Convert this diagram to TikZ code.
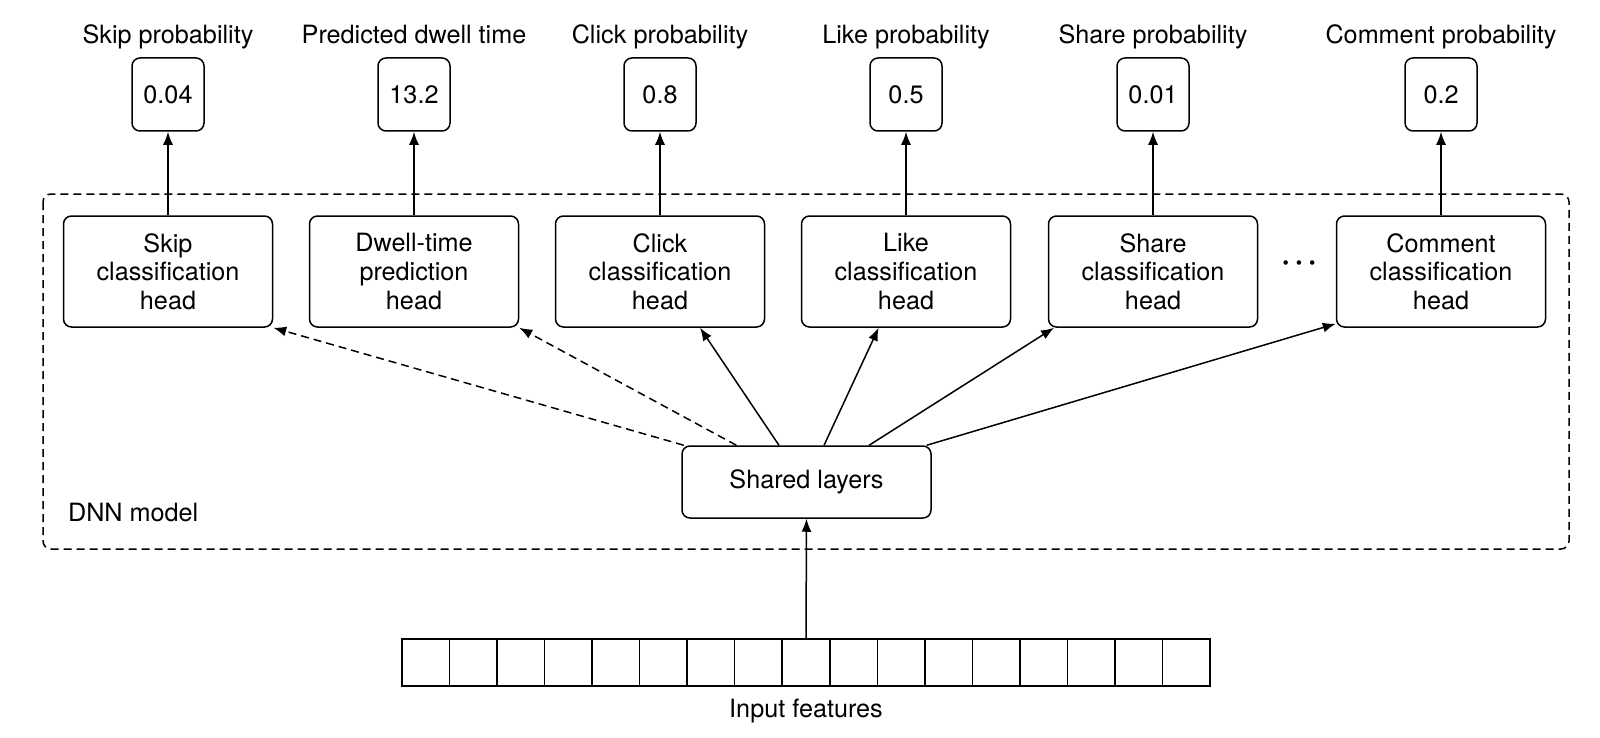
\documentclass[tikz,border=0pt]{standalone}
\usepackage{fontspec}
\setmainfont{TeX Gyre Heros}
\usetikzlibrary{arrows.meta,calc}
\begin{document}
\begin{tikzpicture}[x=0.5pt,y=-0.5pt,
  txt/.style={font=\fontsize{12.6}{14.3}\selectfont},
  box/.style={draw, rounded corners=4pt, line width=0.75pt, inner sep=0pt, txt},
  head/.style={box, minimum width=104.5pt, minimum height=55.5pt, align=center},
  valbox/.style={box, minimum width=36pt, minimum height=36.5pt},
  sharedbox/.style={box, minimum width=124.5pt, minimum height=36pt},
  cell/.style={draw, line width=0.75pt, minimum width=23.76pt, minimum height=23.5pt, inner sep=0pt},
  title/.style={txt, anchor=base},
  arr/.style={-{Latex[length=6.5pt,width=5pt]}, line width=0.75pt},
  darr/.style={arr, dash pattern=on 4pt off 2.5pt},
  frame/.style={draw, line width=0.75pt, dash pattern=on 4pt off 2.5pt, rounded corners=4pt}
]
\useasboundingbox (0,0) rectangle (1600,738);

% DNN frame
\draw[frame] (43,194) rectangle (1569,549);
\node[txt, anchor=base west] (dnn) at (61,521) {DNN model};

% heads
\node[head] (skip) at (168,271.5) {Skip\\classification\\head};
\node[head] (dwell) at (414,271.5) {Dwell-time\\prediction\\head};
\node[head] (click) at (660,271.5) {Click\\classification\\head};
\node[head] (like) at (906,271.5) {Like\\classification\\head};
\node[head] (share) at (1153,271.5) {Share\\classification\\head};
\node[head] (comment) at (1441,271.5) {Comment\\classification\\head};
\node[font=\fontsize{15}{15}\selectfont\bfseries, inner sep=0pt] (dots) at (1299,266) {\textperiodcentered\,\textperiodcentered\,\textperiodcentered};

% value boxes
\node[valbox] (vskip) at (168,94.5) {0.04};
\node[valbox] (vdwell) at (414,94.5) {13.2};
\node[valbox] (vclick) at (660,94.5) {0.8};
\node[valbox] (vlike) at (906,94.5) {0.5};
\node[valbox] (vshare) at (1153,94.5) {0.01};
\node[valbox] (vcomment) at (1441,94.5) {0.2};

% titles
\node[title] (tskip) at (168,44) {Skip probability};
\node[title] (tdwell) at (414,44) {Predicted dwell time};
\node[title] (tclick) at (660,44) {Click probability};
\node[title] (tlike) at (906,44) {Like probability};
\node[title] (tshare) at (1153,44) {Share probability};
\node[title] (tcomment) at (1441,44) {Comment probability};

% head -> value arrows
\foreach \n in {skip,dwell,click,like,share,comment}
  \draw[arr] (\n.north) -- (v\n.south);

% shared layers
\node[sharedbox] (shared) at (806.5,482) {Shared layers};

\draw[darr] ($(shared.north west)!0.01!(shared.north east)$) -- (skip.south east);
\draw[darr] ($(shared.north west)!0.22!(shared.north east)$) -- (dwell.south east);
\draw[arr] ($(shared.north west)!0.39!(shared.north east)$) -- ($(click.south west)!0.69!(click.south east)$);
\draw[arr] ($(shared.north west)!0.57!(shared.north east)$) -- ($(like.south west)!0.37!(like.south east)$);
\draw[arr] ($(shared.north west)!0.75!(shared.north east)$) -- ($(share.south west)!0.03!(share.south east)$);
\draw[arr] ($(shared.north west)!0.98!(shared.north east)$) -- ($(comment.south west)+(0,-4)$);

% input features
\foreach \i in {0,...,16}
  \node[cell] (c\i) at ({402+(\i+0.5)*47.53},662.5) {};
\node[title] (input) at (806,717) {Input features};
\draw[arr] (c8.north) -- (shared.south);

\end{tikzpicture}
\end{document}
